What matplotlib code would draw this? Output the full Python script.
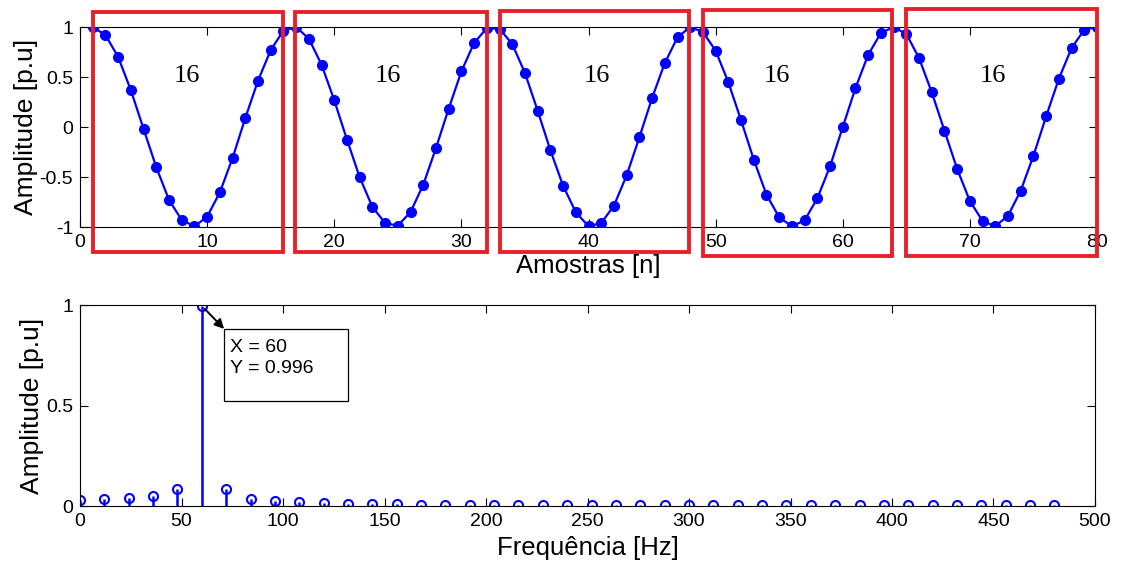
import numpy as np
import matplotlib
matplotlib.use("Agg")
import matplotlib.pyplot as plt
from matplotlib.patches import Rectangle

plt.rcParams["font.family"] = ["Liberation Sans", "DejaVu Sans"]

# amostras do sinal (80 amostras, ~16 por ciclo)
amostras = np.arange(1, 81)
sinal = [
    1.00, 0.92, 0.70, 0.367, -0.02, -0.403, -0.73, -0.93, -0.993, -0.897,
    -0.653, -0.31, 0.09, 0.463, 0.77, 0.963, 1.00, 0.883, 0.623, 0.267,
    -0.127, -0.503, -0.80, -0.96, -0.987, -0.85, -0.577, -0.21, 0.183, 0.557,
    0.84, 0.99, 0.983, 0.83, 0.54, 0.163, -0.233, -0.587, -0.853, -0.993,
    -0.96, -0.787, -0.483, -0.103, 0.29, 0.64, 0.897, 1.00, 0.95, 0.763,
    0.447, 0.067, -0.327, -0.677, -0.903, -0.993, -0.933, -0.713, -0.393, 0.0,
    0.39, 0.723, 0.94, 1.00, 0.93, 0.69, 0.347, -0.037, -0.42, -0.74,
    -0.94, -0.993, -0.887, -0.637, -0.287, 0.107, 0.483, 0.79, 0.973, 1.00,
]

# janelas de um ciclo (inicio, fim) em amostras e rotulos
ciclos_ini = [1.0, 16.9, 33.0, 49.0, 65.0]
ciclos_fim = [16.0, 32.05, 47.9, 63.9, 80.0]
ciclos_lab = ["16", "16", "16", "16", "16"]
ciclos_txt_x = [8.4, 24.2, 40.65, 54.8, 71.8]

# espectro
freqs = np.arange(0, 481, 12)
espectro = [
    0.030, 0.035, 0.038, 0.050, 0.083, 0.996, 0.083, 0.033, 0.023, 0.018,
    0.013, 0.008, 0.008, 0.008, 0.006, 0.006, 0.006, 0.006, 0.006, 0.006,
    0.005, 0.005, 0.005, 0.005, 0.005, 0.005, 0.005, 0.005, 0.005, 0.005,
    0.005, 0.005, 0.005, 0.005, 0.005, 0.005, 0.005, 0.005, 0.005, 0.005,
    0.005,
]

azul = "#0000ff"
vermelho = "#e8202a"

fig = plt.figure(figsize=(11.21, 5.63), dpi=100)
ax1 = fig.add_axes([0.0714, 0.5968, 0.9072, 0.3552])
ax2 = fig.add_axes([0.0714, 0.1012, 0.9054, 0.357])

for ax in (ax1, ax2):
    ax.tick_params(direction="in", labelsize=14, length=6, width=0.8,
                   top=True, right=True, pad=5)
    for s in ax.spines.values():
        s.set_linewidth(0.8)

# --- sinal no tempo ---
ax1.plot(amostras, sinal, "-o", color=azul, lw=1.6, ms=7, zorder=3)
ax1.set_xlim(0, 80)
ax1.set_ylim(-1, 1)
ax1.set_xticks(np.arange(0, 81, 10))
ax1.set_yticks([-1, -0.5, 0, 0.5, 1])
ax1.set_yticklabels(["-1", "-0.5", "0", "0.5", "1"])
ax1.set_xlabel("Amostras [n]", fontsize=18.5)
ax1.set_ylabel("Amplitude [p.u]", fontsize=19)
ax1.xaxis.set_label_coords(0.5, -0.135)
ax1.yaxis.set_label_coords(-0.041, 0.5)

tops = [1.15, 1.15, 1.16, 1.173, 1.18]
bots = [-1.25, -1.25, -1.25, -1.287, -1.29]
for x0, x1, yt, yb in zip(ciclos_ini, ciclos_fim, tops, bots):
    ax1.add_patch(Rectangle((x0, yb), x1 - x0, yt - yb, fill=False,
                            edgecolor=vermelho, lw=2.8, clip_on=False, zorder=5))
for xt, lab in zip(ciclos_txt_x, ciclos_lab):
    ax1.text(xt, 0.51, lab, fontsize=19, family=["Liberation Serif", "DejaVu Serif"],
             ha="center", va="center")

# --- espectro ---
ml, sl, bl = ax2.stem(freqs, espectro, basefmt=" ")
plt.setp(sl, color=azul, lw=1.8)
plt.setp(ml, color=azul, marker="o", ms=6.5, mfc="none", mew=1.5)
ax2.set_xlim(0, 500)
ax2.set_ylim(0, 1)
ax2.set_xticks(np.arange(0, 501, 50))
ax2.set_yticks([0, 0.5, 1])
ax2.set_yticklabels(["0", "0.5", "1"])
ax2.set_xlabel("Frequência [Hz]", fontsize=18.5)
ax2.set_ylabel("Amplitude [p.u]", fontsize=19)
ax2.xaxis.set_label_coords(0.5, -0.15)
ax2.yaxis.set_label_coords(-0.036, 0.5)

ipk = int(np.argmax(espectro))
fpk, vpk = freqs[ipk], espectro[ipk]
bx, by = fpk + 11, vpk - 0.115
ax2.add_patch(Rectangle((bx, by - 0.36), 61, 0.36, facecolor="white",
                        edgecolor="black", lw=0.9, zorder=6))
ax2.text(bx + 3, by - 0.05, f"X = {fpk}\nY = {vpk:.3f}", fontsize=14,
         va="top", ha="left", linespacing=1.3, zorder=7)
ax2.annotate("", xy=(bx, by), xytext=(fpk, vpk),
             arrowprops=dict(arrowstyle="-|>", color="black", lw=1.4,
                             shrinkA=3, shrinkB=0, mutation_scale=14), zorder=7)

fig.savefig("out.png", dpi=100)
